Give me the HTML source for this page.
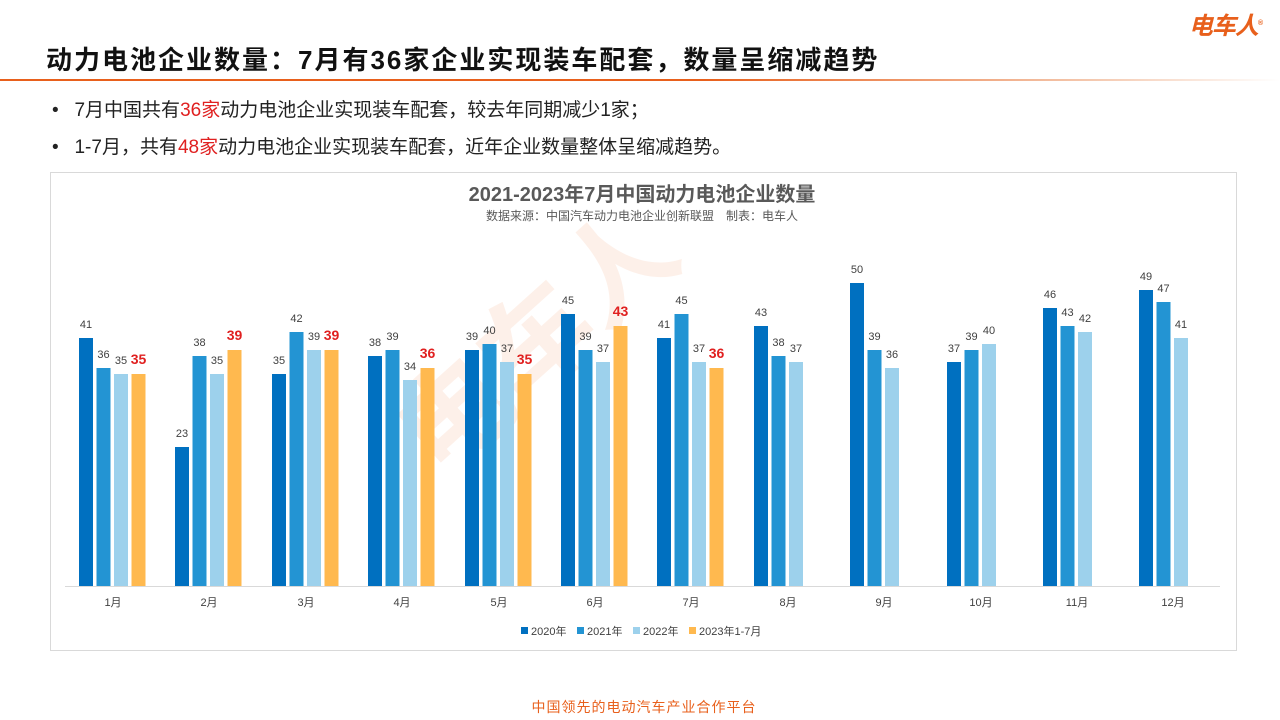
<!DOCTYPE html>
<html><head><meta charset="utf-8"><style>
body{margin:0;width:1280px;height:720px;background:#fff;position:relative;overflow:hidden;font-family:"Liberation Sans","Noto Sans CJK SC",sans-serif;}
.abs{position:absolute;white-space:nowrap}
</style></head><body>
<div class="abs" style="right:18px;top:6px;color:#E8601C;font-size:24px;font-weight:bold;font-style:italic;letter-spacing:-1px">电车人<sup style="font-size:7px">®</sup></div>
<div class="abs" style="left:46px;top:40px;font-size:26px;font-weight:bold;color:#111;letter-spacing:2px">动力电池企业数量：7月有36家企业实现装车配套，数量呈缩减趋势</div>
<div class="abs" style="left:0;top:79px;width:1280px;height:2px;background:linear-gradient(to right,#E8601C 0%,#E8601C 55%,#f4c7ad 85%,#fff 100%)"></div>
<div class="abs" style="left:52px;top:95px;font-size:19px;color:#222">•&nbsp;&nbsp;&nbsp;7月中国共有<span style="color:#E02020">36家</span>动力电池企业实现装车配套，较去年同期减少1家；</div>
<div class="abs" style="left:52px;top:132px;font-size:19px;color:#222">•&nbsp;&nbsp;&nbsp;1-7月，共有<span style="color:#E02020">48家</span>动力电池企业实现装车配套，近年企业数量整体呈缩减趋势。</div>
<div class="abs" style="left:50px;top:172px;width:1185px;height:477px;border:1px solid #d9d9d9;"></div>
<svg class="abs" style="left:0;top:0" width="1280" height="720" font-family="Liberation Sans, Noto Sans CJK SC, sans-serif">
<text x="0" y="0" transform="translate(440,480) rotate(-42)" font-size="110" font-weight="bold" fill="#F4A57A" opacity="0.16">电车人</text>
<text x="642" y="201" text-anchor="middle" font-size="20" font-weight="bold" fill="#595959">2021-2023年7月中国动力电池企业数量</text>
<text x="642" y="220" text-anchor="middle" font-size="12" fill="#595959">数据来源：中国汽车动力电池企业创新联盟　制表：电车人</text>
<line x1="65" y1="586.5" x2="1220" y2="586.5" stroke="#d9d9d9"/>
<g font-size="11" fill="#404040" text-anchor="middle">
<g transform="translate(113,0)">
<rect x="-34" y="338" width="14" height="248" fill="#0070C0"/><text x="-27" y="328">41</text>
<rect x="-16.5" y="368" width="14" height="218" fill="#2394D3"/><text x="-9.5" y="358">36</text>
<rect x="1" y="374" width="14" height="212" fill="#9DD1EC"/><text x="8" y="364">35</text>
<rect x="18.5" y="374" width="14" height="212" fill="#FFB94F"/><text x="25.5" y="364" font-size="14" font-weight="bold" fill="#E02020">35</text>
<text x="0" y="606">1月</text></g>
<g transform="translate(209,0)">
<rect x="-34" y="447" width="14" height="139" fill="#0070C0"/><text x="-27" y="437">23</text>
<rect x="-16.5" y="356" width="14" height="230" fill="#2394D3"/><text x="-9.5" y="346">38</text>
<rect x="1" y="374" width="14" height="212" fill="#9DD1EC"/><text x="8" y="364">35</text>
<rect x="18.5" y="350" width="14" height="236" fill="#FFB94F"/><text x="25.5" y="340" font-size="14" font-weight="bold" fill="#E02020">39</text>
<text x="0" y="606">2月</text></g>
<g transform="translate(306,0)">
<rect x="-34" y="374" width="14" height="212" fill="#0070C0"/><text x="-27" y="364">35</text>
<rect x="-16.5" y="332" width="14" height="254" fill="#2394D3"/><text x="-9.5" y="322">42</text>
<rect x="1" y="350" width="14" height="236" fill="#9DD1EC"/><text x="8" y="340">39</text>
<rect x="18.5" y="350" width="14" height="236" fill="#FFB94F"/><text x="25.5" y="340" font-size="14" font-weight="bold" fill="#E02020">39</text>
<text x="0" y="606">3月</text></g>
<g transform="translate(402,0)">
<rect x="-34" y="356" width="14" height="230" fill="#0070C0"/><text x="-27" y="346">38</text>
<rect x="-16.5" y="350" width="14" height="236" fill="#2394D3"/><text x="-9.5" y="340">39</text>
<rect x="1" y="380" width="14" height="206" fill="#9DD1EC"/><text x="8" y="370">34</text>
<rect x="18.5" y="368" width="14" height="218" fill="#FFB94F"/><text x="25.5" y="358" font-size="14" font-weight="bold" fill="#E02020">36</text>
<text x="0" y="606">4月</text></g>
<g transform="translate(499,0)">
<rect x="-34" y="350" width="14" height="236" fill="#0070C0"/><text x="-27" y="340">39</text>
<rect x="-16.5" y="344" width="14" height="242" fill="#2394D3"/><text x="-9.5" y="334">40</text>
<rect x="1" y="362" width="14" height="224" fill="#9DD1EC"/><text x="8" y="352">37</text>
<rect x="18.5" y="374" width="14" height="212" fill="#FFB94F"/><text x="25.5" y="364" font-size="14" font-weight="bold" fill="#E02020">35</text>
<text x="0" y="606">5月</text></g>
<g transform="translate(595,0)">
<rect x="-34" y="314" width="14" height="272" fill="#0070C0"/><text x="-27" y="304">45</text>
<rect x="-16.5" y="350" width="14" height="236" fill="#2394D3"/><text x="-9.5" y="340">39</text>
<rect x="1" y="362" width="14" height="224" fill="#9DD1EC"/><text x="8" y="352">37</text>
<rect x="18.5" y="326" width="14" height="260" fill="#FFB94F"/><text x="25.5" y="316" font-size="14" font-weight="bold" fill="#E02020">43</text>
<text x="0" y="606">6月</text></g>
<g transform="translate(691,0)">
<rect x="-34" y="338" width="14" height="248" fill="#0070C0"/><text x="-27" y="328">41</text>
<rect x="-16.5" y="314" width="14" height="272" fill="#2394D3"/><text x="-9.5" y="304">45</text>
<rect x="1" y="362" width="14" height="224" fill="#9DD1EC"/><text x="8" y="352">37</text>
<rect x="18.5" y="368" width="14" height="218" fill="#FFB94F"/><text x="25.5" y="358" font-size="14" font-weight="bold" fill="#E02020">36</text>
<text x="0" y="606">7月</text></g>
<g transform="translate(788,0)">
<rect x="-34" y="326" width="14" height="260" fill="#0070C0"/><text x="-27" y="316">43</text>
<rect x="-16.5" y="356" width="14" height="230" fill="#2394D3"/><text x="-9.5" y="346">38</text>
<rect x="1" y="362" width="14" height="224" fill="#9DD1EC"/><text x="8" y="352">37</text>
<text x="0" y="606">8月</text></g>
<g transform="translate(884,0)">
<rect x="-34" y="283" width="14" height="303" fill="#0070C0"/><text x="-27" y="273">50</text>
<rect x="-16.5" y="350" width="14" height="236" fill="#2394D3"/><text x="-9.5" y="340">39</text>
<rect x="1" y="368" width="14" height="218" fill="#9DD1EC"/><text x="8" y="358">36</text>
<text x="0" y="606">9月</text></g>
<g transform="translate(981,0)">
<rect x="-34" y="362" width="14" height="224" fill="#0070C0"/><text x="-27" y="352">37</text>
<rect x="-16.5" y="350" width="14" height="236" fill="#2394D3"/><text x="-9.5" y="340">39</text>
<rect x="1" y="344" width="14" height="242" fill="#9DD1EC"/><text x="8" y="334">40</text>
<text x="0" y="606">10月</text></g>
<g transform="translate(1077,0)">
<rect x="-34" y="308" width="14" height="278" fill="#0070C0"/><text x="-27" y="298">46</text>
<rect x="-16.5" y="326" width="14" height="260" fill="#2394D3"/><text x="-9.5" y="316">43</text>
<rect x="1" y="332" width="14" height="254" fill="#9DD1EC"/><text x="8" y="322">42</text>
<text x="0" y="606">11月</text></g>
<g transform="translate(1173,0)">
<rect x="-34" y="290" width="14" height="296" fill="#0070C0"/><text x="-27" y="280">49</text>
<rect x="-16.5" y="302" width="14" height="284" fill="#2394D3"/><text x="-9.5" y="292">47</text>
<rect x="1" y="338" width="14" height="248" fill="#9DD1EC"/><text x="8" y="328">41</text>
<text x="0" y="606">12月</text></g>
</g>
<g font-size="11" fill="#404040">
<rect x="521" y="627" width="7" height="7" fill="#0070C0"/><text x="531" y="635">2020年</text>
<rect x="577" y="627" width="7" height="7" fill="#2394D3"/><text x="587" y="635">2021年</text>
<rect x="633" y="627" width="7" height="7" fill="#9DD1EC"/><text x="643" y="635">2022年</text>
<rect x="689" y="627" width="7" height="7" fill="#FFB94F"/><text x="699" y="635">2023年1-7月</text>
</g>
<text x="644" y="712" text-anchor="middle" font-size="14" fill="#E8601C" letter-spacing="1">中国领先的电动汽车产业合作平台</text>
</svg>
</body></html>
